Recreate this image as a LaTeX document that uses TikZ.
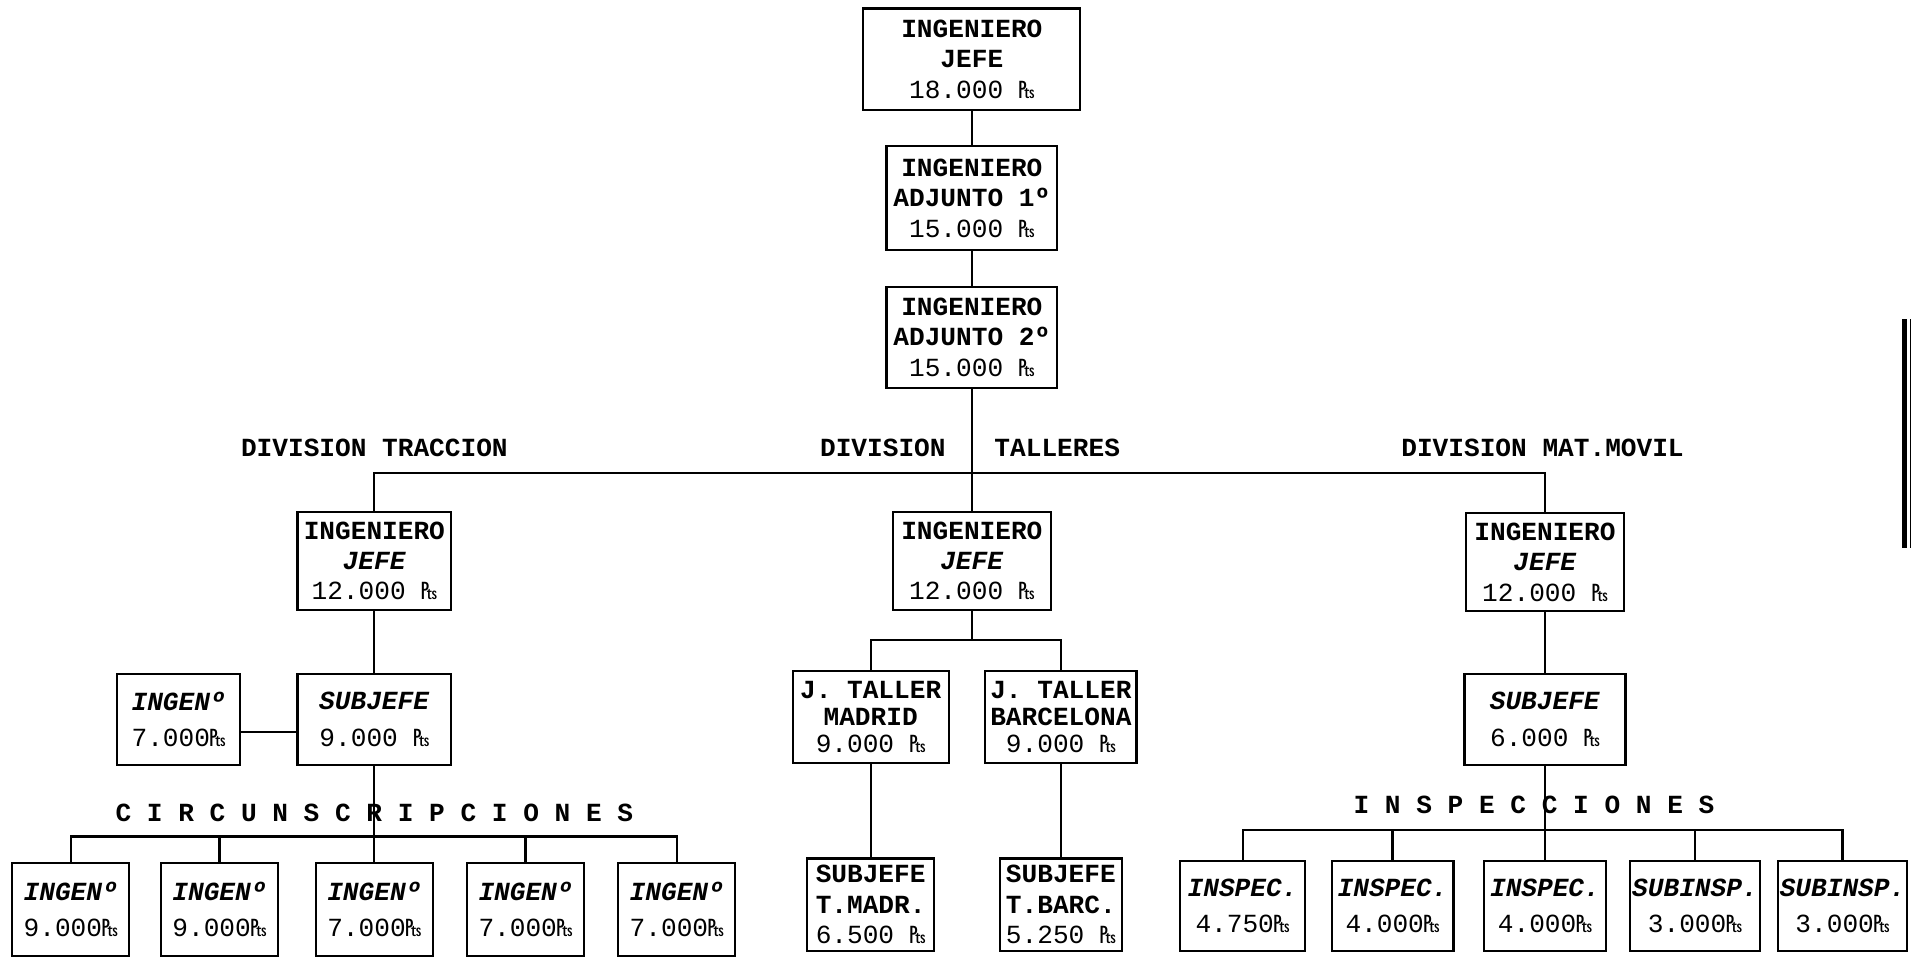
\documentclass[tikz,border=0pt]{standalone}
\usepackage{fontspec}
\setmainfont{Liberation Mono}

\tikzstyle{post}=[
    rectangle,
    draw=black,
    line width=1pt,
    inner sep=1pt,
    align=center,
    font=\fontsize{12.2}{14.2}\selectfont\bfseries
]
\tikzstyle{posttwo}=[
    post,
    font=\fontsize{12.2}{17}\selectfont\bfseries
]
\tikzstyle{posttight}=[
    post,
    font=\fontsize{12.2}{12.5}\selectfont\bfseries
]
\tikzstyle{division}=[
    inner sep=0pt,
    font=\fontsize{12.2}{14.2}\selectfont\bfseries
]
\tikzstyle{elbow}=[to path={-| (\tikztotarget)}]

\begin{document}
\begin{tikzpicture}[x=0.02cm,y=-0.02cm]
	\useasboundingbox (0,0) rectangle (1568,785);

	% TOP CHAIN
	\node (jefe) [post, minimum width=3.56cm, minimum height=1.66cm] at (797,48.5)
		{INGENIERO\\JEFE\\{\mdseries 18.000 ₧}};
	\node (adj1) [post, minimum width=2.8cm, minimum height=1.7cm] at (797,162.5)
		{INGENIERO\\ADJUNTO 1º\\{\mdseries 15.000 ₧}};
	\node (adj2) [post, minimum width=2.8cm, minimum height=1.66cm] at (797,276.5)
		{INGENIERO\\ADJUNTO 2º\\{\mdseries 15.000 ₧}};

	% DIVISION LAYER
	\coordinate (div) at (797,388);
	\node (trac) [division] at (307,367) {DIVISION TRACCION};
	\node (tall_a) [division] at (724,367) {DIVISION};
	\node (tall_b) [division] at (867,367) {TALLERES};
	\node (mat) [division] at (1265,367) {DIVISION MAT.MOVIL};

	\node (tjefe) [post, minimum width=2.52cm, minimum height=1.6cm] at (307,460)
		{INGENIERO\\\textit{JEFE}\\{\mdseries 12.000 ₧}};
	\node (ljefe) [post, minimum width=2.6cm, minimum height=1.6cm] at (797,460)
		{INGENIERO\\\textit{JEFE}\\{\mdseries 12.000 ₧}};
	\node (mjefe) [post, minimum width=2.6cm, minimum height=1.6cm] at (1267,461)
		{INGENIERO\\\textit{JEFE}\\{\mdseries 12.000 ₧}};

	% TRACCION
	\node (tingen) [posttwo, minimum width=2.02cm, minimum height=1.5cm] at (146.5,590)
		{\textit{INGENº}\\{\mdseries 7.000₧}};
	\node (tsub) [posttwo, minimum width=2.52cm, minimum height=1.5cm] at (307,590)
		{\textit{SUBJEFE}\\{\mdseries 9.000 ₧}};
	\coordinate (circ) at (307,686);
	\node (circ_lbl) [division] at (307,667) {C I R C U N S C R I P C I O N E S};
	\node (c_1) [posttwo, minimum width=1.92cm, minimum height=1.52cm] at (58,746)
		{\textit{INGENº}\\{\mdseries 9.000₧}};
	\node (c_2) [posttwo, minimum width=1.92cm, minimum height=1.52cm] at (180,746)
		{\textit{INGENº}\\{\mdseries 9.000₧}};
	\node (c_3) [posttwo, minimum width=1.92cm, minimum height=1.52cm] at (307,746)
		{\textit{INGENº}\\{\mdseries 7.000₧}};
	\node (c_4) [posttwo, minimum width=1.92cm, minimum height=1.52cm] at (431,746)
		{\textit{INGENº}\\{\mdseries 7.000₧}};
	\node (c_5) [posttwo, minimum width=1.92cm, minimum height=1.52cm] at (555,746)
		{\textit{INGENº}\\{\mdseries 7.000₧}};

	% TALLERES
	\coordinate (tall) at (797,525);
	\node (tmad) [posttight, minimum width=2.56cm, minimum height=1.5cm] at (714,588)
		{J. TALLER\\MADRID\\{\mdseries 9.000 ₧}};
	\node (tbar) [posttight, minimum width=2.48cm, minimum height=1.5cm] at (870,588)
		{J. TALLER\\BARCELONA\\{\mdseries 9.000 ₧}};
	\node (smad) [post, minimum width=2.08cm, minimum height=1.52cm] at (714,742)
		{SUBJEFE\\T.MADR.\\{\mdseries 6.500 ₧}};
	\node (sbar) [post, minimum width=2.0cm, minimum height=1.52cm] at (870,742)
		{SUBJEFE\\T.BARC.\\{\mdseries 5.250 ₧}};

	% MAT. MOVIL
	\node (msub) [posttwo, minimum width=2.64cm, minimum height=1.5cm] at (1267,590)
		{\textit{SUBJEFE}\\{\mdseries 6.000 ₧}};
	\coordinate (insp) at (1267,681);
	\node (insp_lbl) [division] at (1258,660) {I N S P E C C I O N E S};
	\node (i_1) [posttwo, minimum width=2.04cm, minimum height=1.48cm] at (1019,743)
		{\textit{INSPEC.}\\{\mdseries 4.750₧}};
	\node (i_2) [posttwo, minimum width=2.0cm, minimum height=1.48cm] at (1142,743)
		{\textit{INSPEC.}\\{\mdseries 4.000₧}};
	\node (i_3) [posttwo, minimum width=2.0cm, minimum height=1.48cm] at (1267,743)
		{\textit{INSPEC.}\\{\mdseries 4.000₧}};
	\node (i_4) [posttwo, minimum width=2.0cm, minimum height=1.48cm] at (1390,743)
		{\textit{SUBINSP.}\\{\mdseries 3.000₧}};
	\node (i_5) [posttwo, minimum width=2.0cm, minimum height=1.48cm] at (1511,743)
		{\textit{SUBINSP.}\\{\mdseries 3.000₧}};

	\path[line width=1pt]
	% Main chain
	(jefe) edge (adj1)
	(adj1) edge (adj2)
	(adj2) edge (ljefe)

	% Divisions
	(div) edge[elbow] (tjefe)
	(div) edge[elbow] (mjefe)

	% Traccion
	(tjefe) edge (tsub)
	([yshift=-0.2cm]tingen.east) edge ([yshift=-0.2cm]tsub.west)
	(tsub) edge (c_3)
	(circ) edge[elbow] (c_1)
	(circ) edge[elbow] (c_2)
	(circ) edge[elbow] (c_4)
	(circ) edge[elbow] (c_5)

	% Talleres
	(ljefe) edge (tall)
	(tall) edge[elbow] (tmad)
	(tall) edge[elbow] (tbar)
	(tmad) edge (smad)
	(tbar) edge (sbar)

	% Mat. movil
	(mjefe) edge (msub)
	(msub) edge (i_3)
	(insp) edge[elbow] (i_1)
	(insp) edge[elbow] (i_2)
	(insp) edge[elbow] (i_4)
	(insp) edge[elbow] (i_5)
	;

	% margin mark
	\draw[line width=2.3pt] (1562,262) -- (1562,449);
	\draw[line width=0.5pt] (1567,262) -- (1567,449);
\end{tikzpicture}
\end{document}
